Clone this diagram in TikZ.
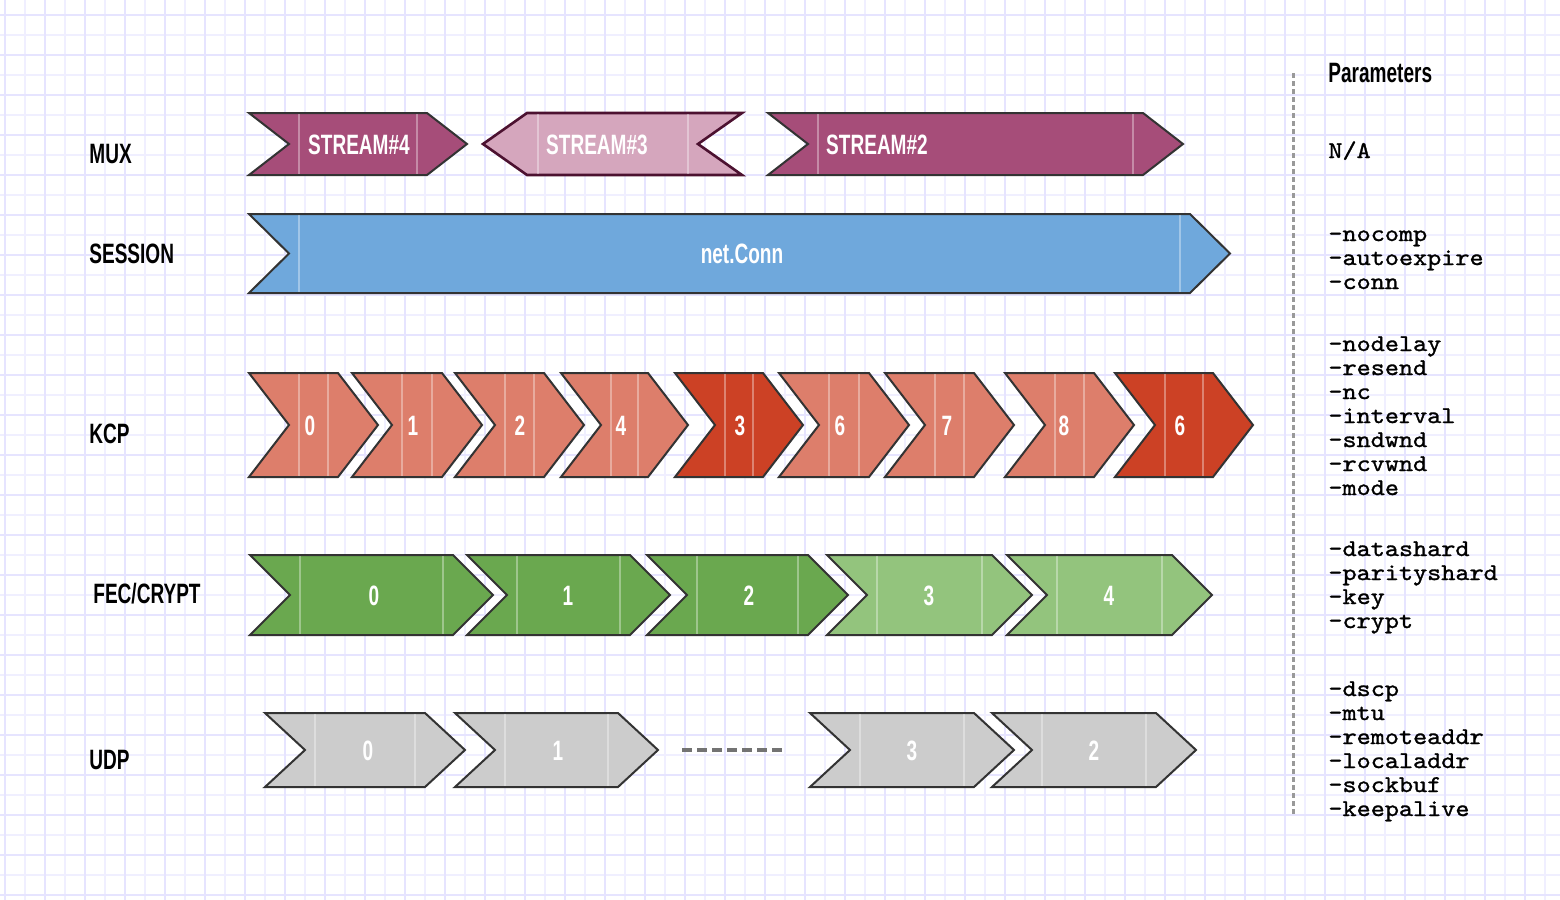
\documentclass[tikz,border=0pt]{standalone}
\usepackage{fontspec}
\setmainfont{Liberation Sans}
\newfontfamily\layerfont[FakeStretch=0.68]{Liberation Sans}
\newfontfamily\paramfont[Extension=.otf, FakeStretch=1.12, FakeBold=1.2]{lmmono10-regular}

\definecolor{gridstrong}{RGB}{230,228,255}
\definecolor{gridsoft}{RGB}{240,239,255}
\definecolor{edge}{RGB}{51,51,51}
\definecolor{muxdark}{RGB}{166,77,121}
\definecolor{muxlight}{RGB}{213,166,189}
\definecolor{muxedge}{RGB}{76,17,48}
\definecolor{sessblue}{RGB}{111,168,220}
\definecolor{kcplight}{RGB}{221,126,107}
\definecolor{kcpdark}{RGB}{204,65,37}
\definecolor{fecdark}{RGB}{106,168,79}
\definecolor{feclight}{RGB}{147,196,125}
\definecolor{udpgray}{RGB}{204,204,204}

\tikzset{
  layer/.style={font=\layerfont\bfseries\fontsize{14}{14}\selectfont, anchor=west,
    inner sep=0pt, text height=10pt, text depth=0pt},
  chevtext/.style={layer, anchor=center, text=white},
  chevfill/.style={fill=#1, draw=edge, line width=1pt, line join=miter},
  shine/.style={white, opacity=0.35, line width=0.8pt, shorten <=0.6pt, shorten >=0.6pt},
  param/.style={font=\paramfont\fontsize{12}{12}\selectfont, anchor=base west, inner sep=0pt},
  divider/.style={draw=black!40, line width=1.5pt, dash pattern=on 2.5pt off 1.5pt},
  gapline/.style={draw=black!55, line width=2pt, dash pattern=on 5pt off 2.5pt},
}

\def\cdep{40}
% chevron: name, colour, left x, flat x, top y, bottom y, label x, label
\newcommand{\chevbox}[8]{%
  \filldraw[chevfill=#2] (#3,#5) -- (#4,#5) -- ({#4+\cdep},{(#5+#6)/2}) -- (#4,#6)
    -- (#3,#6) -- ({#3+\cdep},{(#5+#6)/2}) -- cycle;
  \draw[shine] ({#3+\cdep+10},#5) -- ({#3+\cdep+10},#6);
  \draw[shine] ({#4-10},#5) -- ({#4-10},#6);
  \node[chevtext] (#1) at (#7,{(#5+#6)/2}) {#8};
}

\begin{document}
\begin{tikzpicture}[x=0.5pt,y=-0.5pt]
  \useasboundingbox (0,0) rectangle (1560,900);
  \fill[white] (0,0) rectangle (1560,900);
  % paper grid
  \foreach \gx in {25,65,...,1545} \draw[gridsoft, line width=0.8pt] (\gx,0) -- (\gx,900);
  \foreach \gy in {35,75,...,875} \draw[gridsoft, line width=0.8pt] (0,\gy) -- (1560,\gy);
  \foreach \gx in {5,45,...,1565} \draw[gridstrong, line width=0.8pt] (\gx,0) -- (\gx,900);
  \foreach \gy in {15,55,...,895} \draw[gridstrong, line width=0.8pt] (0,\gy) -- (1560,\gy);

  % layer names
  \node[layer] (mux) at (89,153) {MUX};
  \node[layer] (session) at (89,253) {SESSION};
  \node[layer] (kcp) at (89,433) {KCP};
  \node[layer] (fec) at (93,593) {FEC/CRYPT};
  \node[layer] (udp) at (89,759) {UDP};

  % MUX
  \chevbox{s4}{muxdark}{249}{427}{113}{175}{359}{STREAM\#4}
  \filldraw[fill=muxlight, draw=muxedge, line width=1.3pt] (483,144) -- (527,113) -- (742,113)
    -- (698,144) -- (742,175) -- (527,175) -- cycle;
  \draw[shine] (538,113) -- (538,175);
  \draw[shine] (688,113) -- (688,175);
  \node[chevtext] (s3) at (597,144) {STREAM\#3};
  \chevbox{s2}{muxdark}{768}{1143}{113}{175}{877}{STREAM\#2}

  % SESSION
  \chevbox{conn}{sessblue}{249}{1190}{214}{293}{742}{net.Conn}

  % KCP
  \chevbox{k0}{kcplight}{249}{338}{373}{477}{310}{0}
  \chevbox{k1}{kcplight}{352}{442}{373}{477}{413}{1}
  \chevbox{k2}{kcplight}{455}{544}{373}{477}{520}{2}
  \chevbox{k4}{kcplight}{561}{648}{373}{477}{621}{4}
  \chevbox{k3}{kcpdark}{675}{763}{373}{477}{740}{3}
  \chevbox{k6}{kcplight}{779}{869}{373}{477}{840}{6}
  \chevbox{k7}{kcplight}{885}{974}{373}{477}{947}{7}
  \chevbox{k8}{kcplight}{1005}{1094}{373}{477}{1064}{8}
  \chevbox{k6b}{kcpdark}{1115}{1213}{373}{477}{1180}{6}

  % FEC/CRYPT
  \chevbox{f0}{fecdark}{250}{453}{555}{635}{374}{0}
  \chevbox{f1}{fecdark}{467}{630}{555}{635}{568}{1}
  \chevbox{f2}{fecdark}{647}{808}{555}{635}{749}{2}
  \chevbox{f3}{feclight}{827}{992}{555}{635}{929}{3}
  \chevbox{f4}{feclight}{1007}{1172}{555}{635}{1109}{4}

  % UDP
  \chevbox{u0}{udpgray}{265}{425}{713}{787}{368}{0}
  \chevbox{u1}{udpgray}{455}{618}{713}{787}{558}{1}
  \chevbox{u3}{udpgray}{810}{974}{713}{787}{912}{3}
  \chevbox{u2}{udpgray}{992}{1156}{713}{787}{1094}{2}
  \coordinate (udpgapa) at (682,750);
  \coordinate (udpgapb) at (786,750);
  \draw[gapline] (udpgapa) -- (udpgapb);

  % parameters column
  \coordinate (divtop) at (1293,73);
  \coordinate (divbot) at (1293,816);
  \draw[divider] (divtop) -- (divbot);
  \node[layer] (params) at (1328,72) {Parameters};
  \node[param] (na) at (1328,158) {N/A};
  \foreach \p [count=\i from 0] in {-nocomp,-autoexpire,-conn}
    \node[param] (sp\i) at (1328,{241+24*\i}) {\p};
  \foreach \p [count=\i from 0] in {-nodelay,-resend,-nc,-interval,-sndwnd,-rcvwnd,-mode}
    \node[param] (kp\i) at (1328,{351+24*\i}) {\p};
  \foreach \p [count=\i from 0] in {-datashard,-parityshard,-key,-crypt}
    \node[param] (fp\i) at (1328,{556+24*\i}) {\p};
  \foreach \p [count=\i from 0] in {-dscp,-mtu,-remoteaddr,-localaddr,-sockbuf,-keepalive}
    \node[param] (up\i) at (1328,{696+24*\i}) {\p};
\end{tikzpicture}
\end{document}
